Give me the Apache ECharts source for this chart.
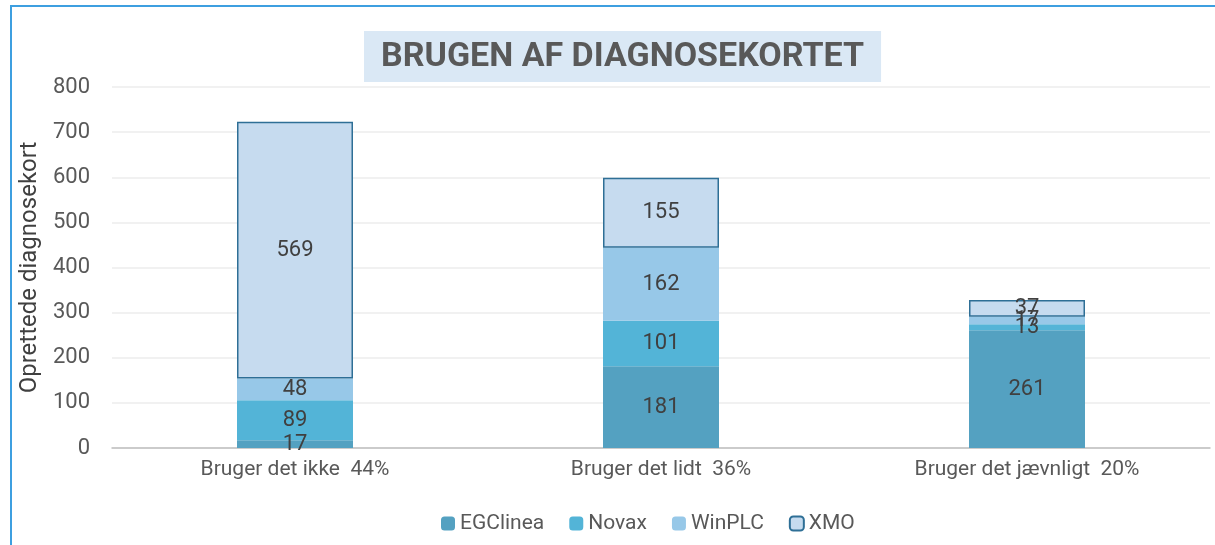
<!DOCTYPE html>
<html lang="da">
<head>
<meta charset="UTF-8" />
<title>Brugen af diagnosekortet</title>
<style>
  body { margin: 0; padding: 0; background: #fff; }
  .chart { width: 1215px; height: 545px; }
</style>
</head>
<body>
<div class="chart"></div>
<script src="https://cdn.jsdelivr.net/npm/echarts@6/dist/echarts.min.js"></script>
<script>
// kategorier og værdier
const categories = ['Bruger det ikke  44%', 'Bruger det lidt  36%', 'Bruger det jævnligt  20%'];
const egclinea = [17, 181, 261];
const novax = [89, 101, 13];
const winplc = [48, 162, 17];
const xmo = [569, 155, 37];
const yTicks = { min: 0, max: 800, interval: 100 };

const font = 'Roboto, "Noto Sans", sans-serif';
const label = {
  show: true,
  position: 'inside',
  color: '#404040',
  fontSize: 22,
  fontFamily: font
};

function serie(name, data, color, border) {
  return {
    name: name,
    type: 'bar',
    stack: 'total',
    barWidth: 116,
    data: data,
    label: label,
    itemStyle: border
      ? { color: color, borderColor: border, borderWidth: 1.5 }
      : { color: color },
    emphasis: { disabled: true }
  };
}

const chart = echarts.init(document.querySelector('.chart'));
chart.setOption({
  animation: false,
  textStyle: { fontFamily: font },
  graphic: [
    { type: 'line', shape: { x1: 11, y1: 5, x2: 11, y2: 545 }, style: { stroke: '#3d9fe0', lineWidth: 2 } },
    { type: 'line', shape: { x1: 10, y1: 6, x2: 1215, y2: 6 }, style: { stroke: '#3d9fe0', lineWidth: 2 } }
  ],
  title: {
    text: 'BRUGEN AF DIAGNOSEKORTET',
    left: 364,
    top: 31,
    padding: [9, 17, 8, 17],
    backgroundColor: '#dae8f5',
    textStyle: { color: '#595959', fontSize: 34, fontWeight: 'bold', fontFamily: font }
  },
  legend: {
    bottom: 6,
    left: 436,
    itemWidth: 14,
    itemHeight: 14,
    itemGap: 25,
    textStyle: { color: '#595959', fontSize: 21, fontFamily: font },
    data: ['EGClinea', 'Novax', 'WinPLC', 'XMO']
  },
  grid: { left: 112, right: 5, top: 87, bottom: 97, containLabel: false },
  xAxis: {
    type: 'category',
    data: categories,
    axisTick: { show: false },
    axisLine: { lineStyle: { color: '#bfbfbf', width: 1.5 } },
    axisLabel: { color: '#595959', fontSize: 21, margin: 11 }
  },
  yAxis: {
    type: 'value',
    min: yTicks.min,
    max: yTicks.max,
    interval: yTicks.interval,
    name: 'Oprettede diagnosekort',
    nameLocation: 'middle',
    nameGap: 70,
    nameTextStyle: { color: '#404040', fontSize: 24 },
    axisLabel: { color: '#595959', fontSize: 22, margin: 22 },
    splitLine: { lineStyle: { color: '#ececec', width: 1.5 } }
  },
  series: [
    serie('EGClinea', egclinea, '#54a1c1'),
    serie('Novax', novax, '#53b4d7'),
    serie('WinPLC', winplc, '#97c8e8'),
    serie('XMO', xmo, '#c6dbef', '#2e6f96')
  ]
});
</script>
</body>
</html>
